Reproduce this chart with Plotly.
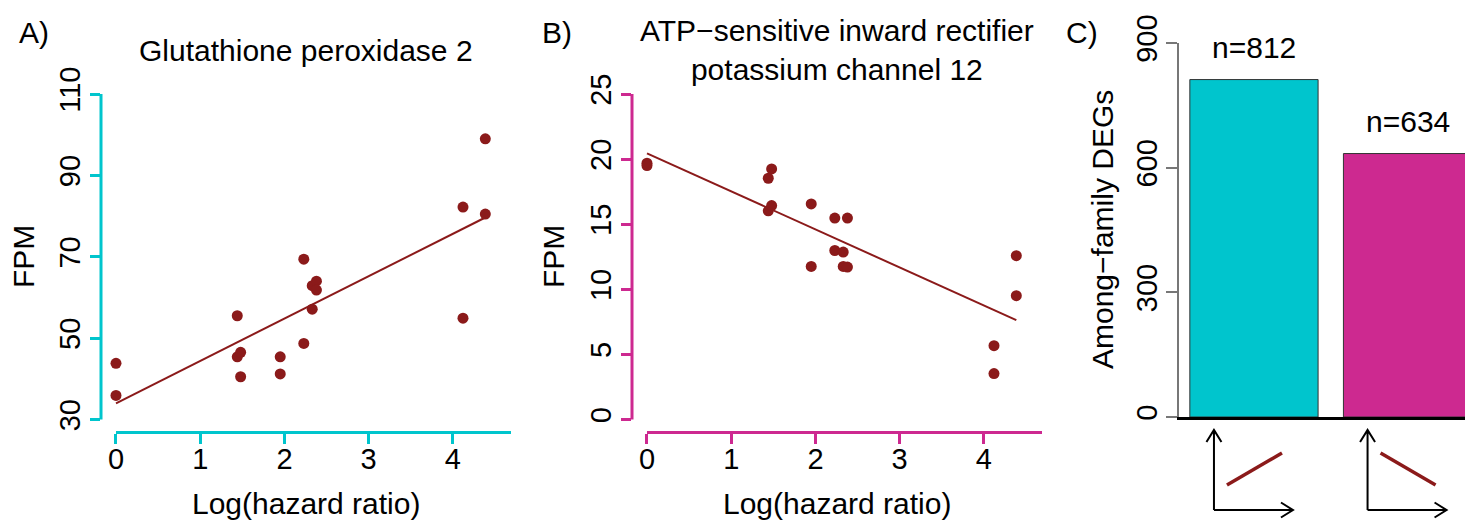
import numpy as np
import plotly.graph_objects as go

# ---------------- data ----------------
log_hr = [0, 0, 1.44, 1.44, 1.48, 1.48, 1.95, 1.95, 2.23, 2.23,
          2.33, 2.33, 2.38, 2.38, 4.12, 4.12, 4.385, 4.385]
fpm_gpx2 = [43.8, 35.9, 55.5, 45.4, 46.5, 40.5, 45.4, 41.2, 69.4, 48.7,
            62.9, 57.1, 64.0, 61.8, 82.2, 54.9, 99.0, 80.5]
fpm_kcnj12 = [19.69, 19.5, 18.53, 16.03, 19.25, 16.43, 16.56, 11.76, 15.47, 12.98,
              12.86, 11.76, 15.47, 11.71, 5.67, 3.53, 12.58, 9.51]

deg_categories = ["positive", "negative"]
deg_counts = [812, 634]

x_ticks = [0, 1, 2, 3, 4]
yA_ticks = [30, 50, 70, 90, 110]
yB_ticks = [0, 5, 10, 15, 20, 25]
yC_ticks = [0, 300, 600, 900]

title_A = "Glutathione peroxidase 2"
title_B = "ATP−sensitive inward rectifier<br>potassium channel 12"
x_title = "Log(hazard ratio)"
y_title_AB = "FPM"
y_title_C = "Among−family DEGs"

# ---------------- style ----------------
VIEW_W, VIEW_H = 1473, 521
OFF = 8                      # page body margin of the html page
W, H = VIEW_W - OFF, VIEW_H - OFF
CYAN = "#00C5CD"
MAGENTA = "#CD2990"
PT = "#8B1A1A"
FONT = "Liberation Sans, Arial, Helvetica, sans-serif"
FS_TICK = 29
FS_TEXT = 30


def px_x(p):
    return (p - OFF) / W


def px_y(p):
    return 1 - (p - OFF) / H


fig = go.Figure()

# scatter + fit lines
for xa, ya, yv in [("x", "y", fpm_gpx2), ("x2", "y2", fpm_kcnj12)]:
    fig.add_trace(go.Scatter(x=log_hr, y=yv, mode="markers", xaxis=xa, yaxis=ya,
                             marker=dict(color=PT, size=11), showlegend=False,
                             cliponaxis=False))
    b, a = np.polyfit(log_hr, yv, 1)
    xs = np.array([min(log_hr), max(log_hr)])
    fig.add_trace(go.Scatter(x=xs, y=a + b * xs, mode="lines", xaxis=xa, yaxis=ya,
                             line=dict(color=PT, width=2), showlegend=False))

# bars
fig.add_trace(go.Bar(x=deg_categories, y=deg_counts, xaxis="x3", yaxis="y3",
                     width=0.835, marker=dict(color=[CYAN, MAGENTA],
                                              line=dict(color="#333333", width=1)),
                     showlegend=False))

domA_x = [px_x(101), px_x(511)]
domB_x = [px_x(632), px_x(1042)]
domAB_y = [px_y(432.5), px_y(81)]
domC_x = [px_x(1179), 1.0]
domC_y = [px_y(417), px_y(43)]
x_range = [-0.178, 4.69]

tickfont = dict(family=FONT, size=FS_TICK, color="black")


def xax(dom, color):
    return dict(domain=dom, range=x_range, tickvals=x_ticks, ticks="outside",
                ticklen=10, tickwidth=3, tickcolor=color, showline=False,
                showgrid=False, zeroline=False, tickfont=tickfont, automargin=False,
                ticklabelstandoff=-9)


def yax(dom, rng, tv, color, anchor):
    return dict(domain=dom, range=rng, tickvals=tv, ticks="outside", ticklen=10,
                tickwidth=3, tickcolor=color, showline=False, showgrid=False,
                zeroline=False, tickangle=-90, tickfont=tickfont, anchor=anchor,
                automargin=False, ticklabelstandoff=-2)


fig.update_layout(
    template="none",
    width=W, height=H, margin=dict(l=0, r=0, t=0, b=0, pad=0, autoexpand=False),
    paper_bgcolor="white", plot_bgcolor="white",
    font=dict(family=FONT, size=FS_TEXT, color="black"),
    xaxis=dict(**xax(domA_x, CYAN), anchor="y"),
    yaxis=yax(domAB_y, [26.8, 113.2], yA_ticks, CYAN, "x"),
    xaxis2=dict(**xax(domB_x, MAGENTA), anchor="y2"),
    yaxis2=yax(domAB_y, [-1.0, 26.0], yB_ticks, MAGENTA, "x2"),
    xaxis3=dict(domain=domC_x, range=[-0.488, 1.426], showticklabels=False,
                ticks="", showline=True, linecolor="black", linewidth=2.5,
                showgrid=False, zeroline=False, anchor="y3", automargin=False),
    yaxis3=dict(domain=domC_y, range=[0, 900], tickvals=yC_ticks, ticks="outside",
                ticklen=11, tickwidth=1.5, tickcolor="#777777", showline=True,
                linecolor="#777777", linewidth=1.5, showgrid=False, zeroline=False,
                tickangle=-90, tickfont=tickfont, anchor="x3", automargin=False,
                ticklabelstandoff=-2),
)

# custom axis lines (R style, offset)
shapes = []
for xr, yr, col in [("x", "y", CYAN), ("x2", "y2", MAGENTA)]:
    shapes.append(dict(type="line", xref=xr, yref=yr + " domain", x0=x_ticks[0],
                       x1=x_range[1], y0=0, y1=0, line=dict(color=col, width=3)))
shapes.append(dict(type="line", xref="x domain", yref="y", x0=0, x1=0,
                   y0=yA_ticks[0], y1=yA_ticks[-1], line=dict(color=CYAN, width=3)))
shapes.append(dict(type="line", xref="x2 domain", yref="y2", x0=0, x1=0,
                   y0=yB_ticks[0], y1=yB_ticks[-1], line=dict(color=MAGENTA, width=3)))

# trend icons under bars
for i, cat in enumerate(deg_categories):
    sign = 1 if i == 0 else -1
    axes_path = ("M -40,-93 L -40,-13 M -47.5,-25 L -40,-13 L -32.5,-25 "
                 "M -40,-93 L 39,-93 M 27,-85.5 L 39,-93 L 27,-100.5")
    shapes.append(dict(type="path", xref="x3", yref="paper", xsizemode="pixel",
                       ysizemode="pixel", xanchor=i, yanchor=domC_y[0],
                       path=axes_path, line=dict(color="black", width=2)))
    y0, y1 = (-68, -36) if sign > 0 else (-36, -68)
    shapes.append(dict(type="path", xref="x3", yref="paper", xsizemode="pixel",
                       ysizemode="pixel", xanchor=i, yanchor=domC_y[0],
                       path=f"M -27,{y0} L 28,{y1}", line=dict(color=PT, width=3.5)))
fig.update_layout(shapes=shapes)


def note(x, y, text, **kw):
    d = dict(x=x, y=y, xref="paper", yref="paper", text=text, showarrow=False,
             xanchor="center", yanchor="middle", font=dict(size=FS_TEXT))
    d.update(kw)
    return d


ann = []
for cat, v in zip(deg_categories, deg_counts):
    ann.append(dict(x=cat, y=v, xref="x3", yref="y3", text=f"n={v}", showarrow=False,
                    xanchor="center", yshift=32, yanchor="middle",
                    font=dict(size=FS_TEXT)))
ann += [
    note(px_x(17), px_y(32), "A)", xanchor="left"),
    note(px_x(540), px_y(32), "B)", xanchor="left"),
    note(px_x(1064), px_y(32), "C)", xanchor="left"),
    note(sum(domA_x) / 2, px_y(50), title_A),
    note(sum(domB_x) / 2, px_y(50), title_B),
    note(sum(domA_x) / 2, px_y(503), x_title),
    note(sum(domB_x) / 2, px_y(503), x_title),
    note(px_x(23), px_y(257), y_title_AB, textangle=-90),
    note(px_x(553), px_y(257), y_title_AB, textangle=-90),
    note(px_x(1102), px_y(230), y_title_C, textangle=-90),
]
fig.update_layout(annotations=ann)

fig.write_html("out.html")
